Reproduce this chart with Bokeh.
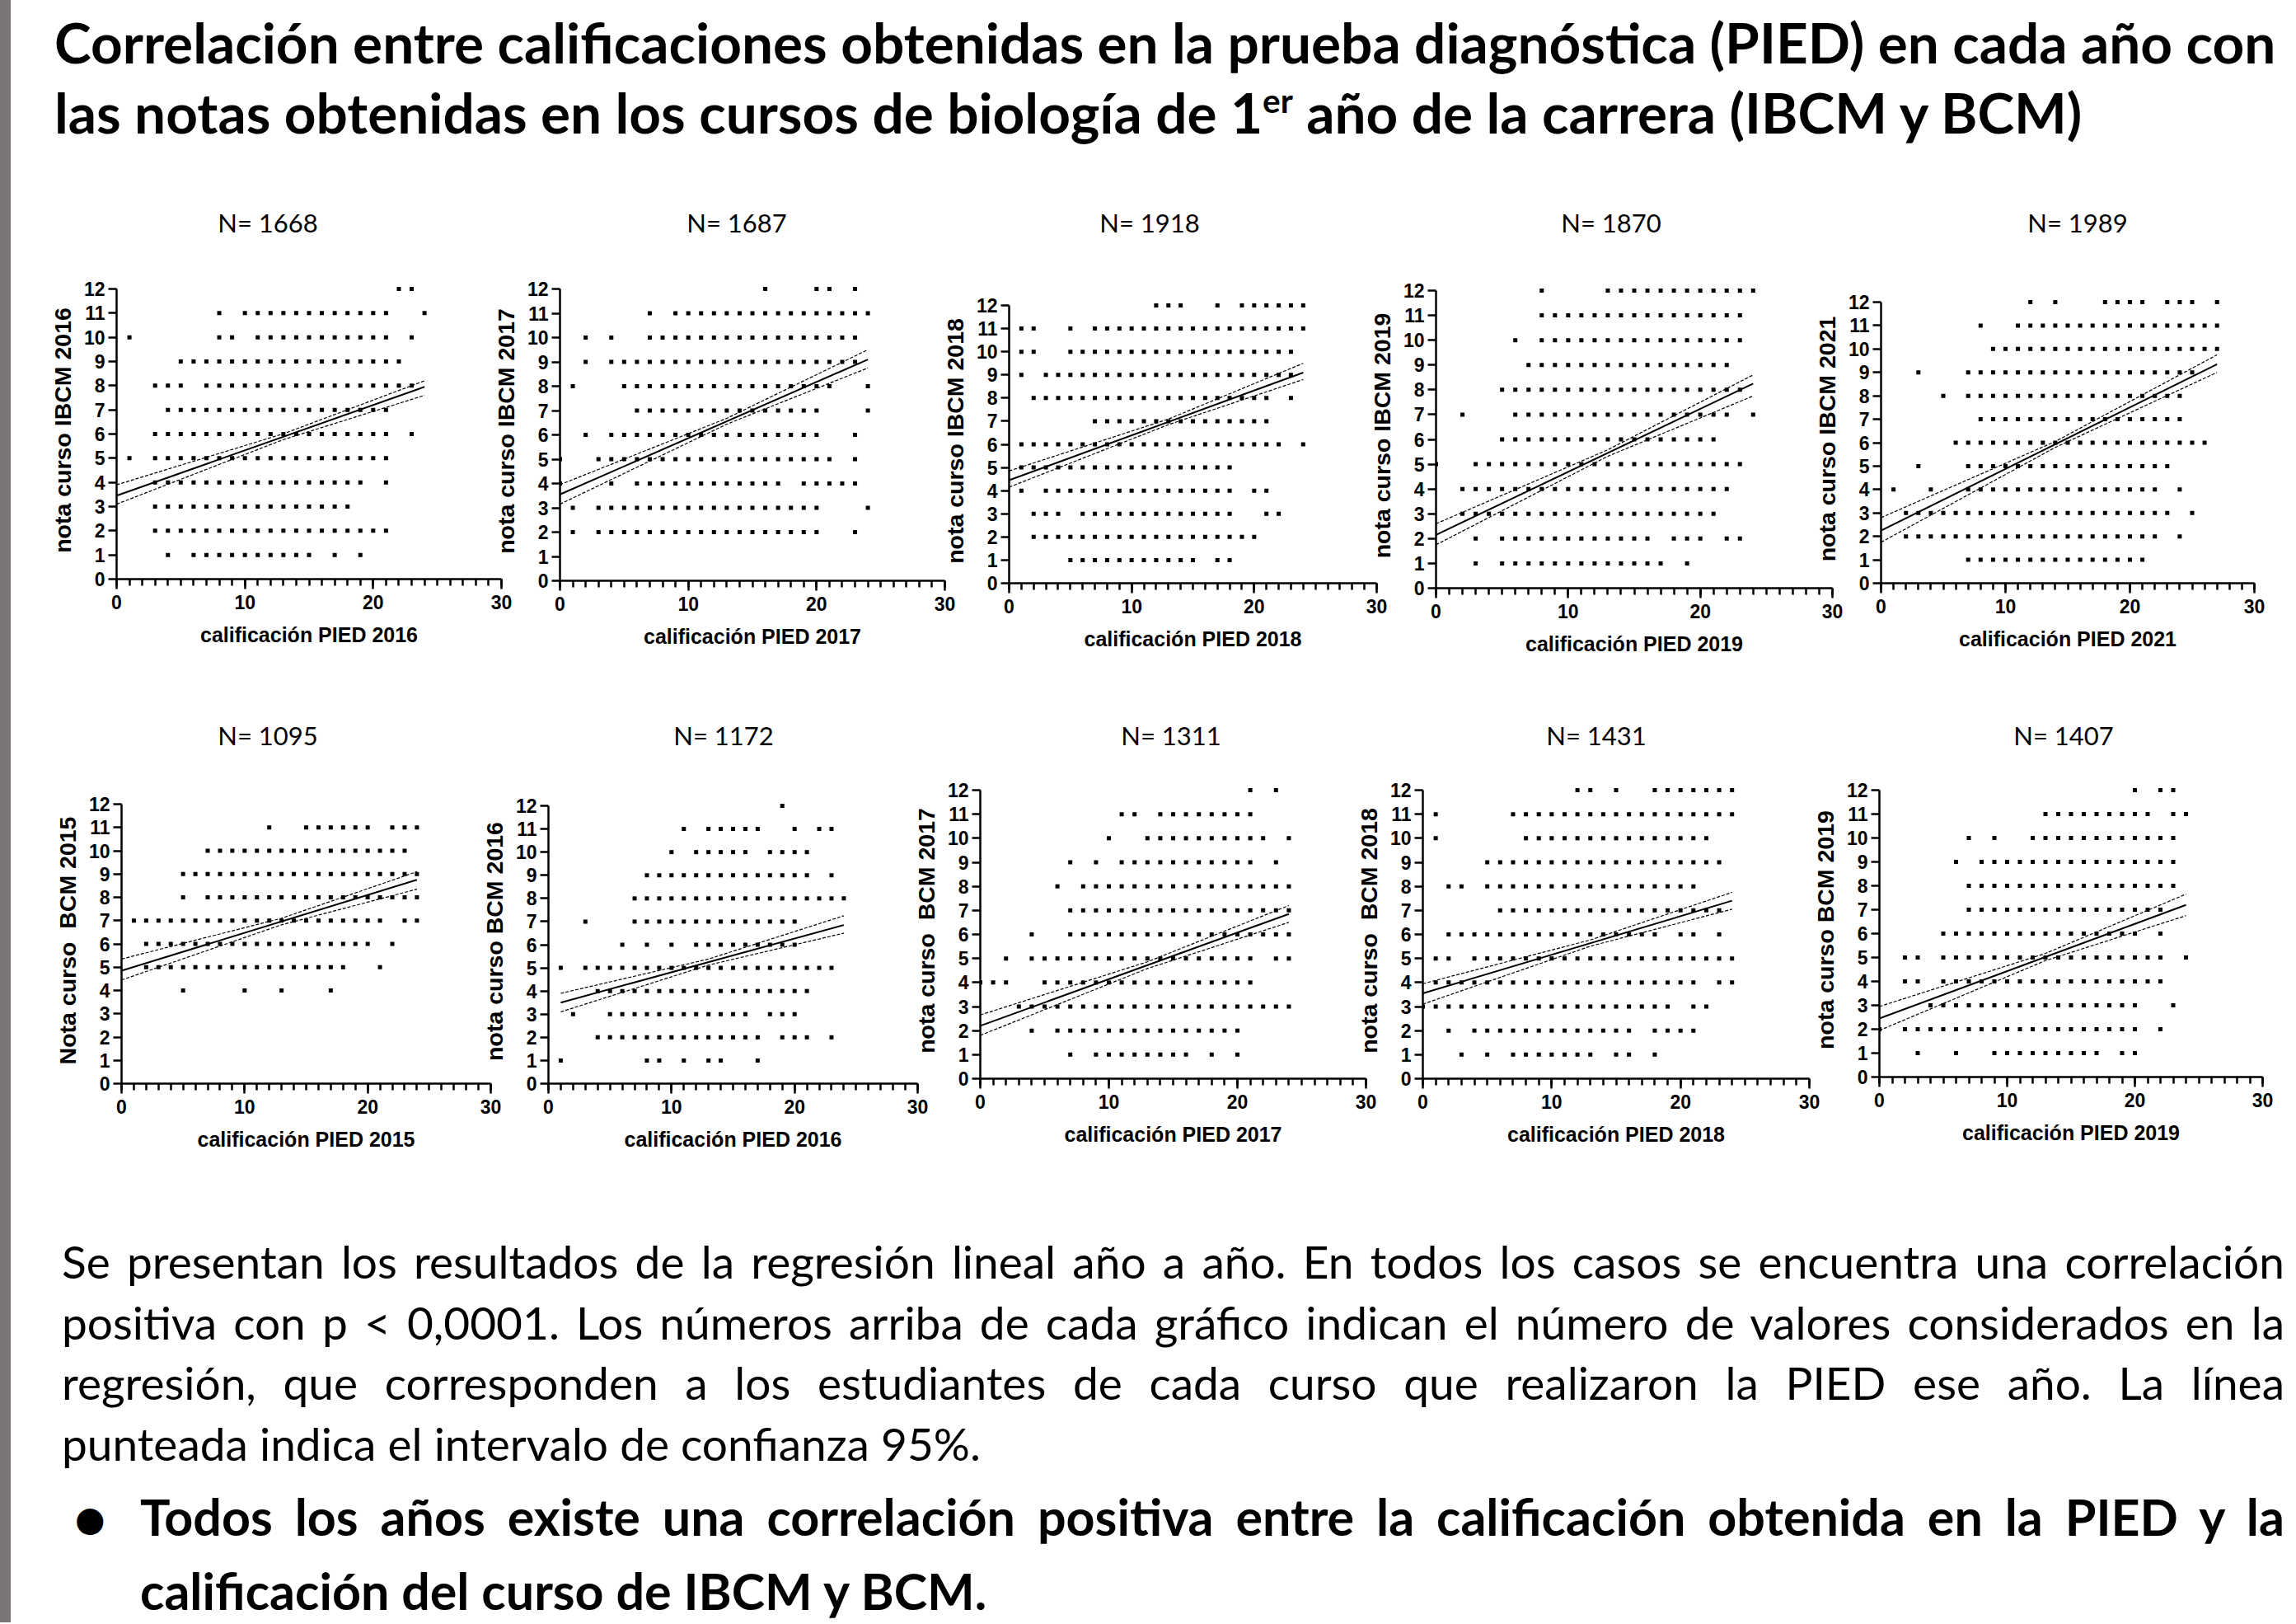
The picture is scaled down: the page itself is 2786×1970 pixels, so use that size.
from bokeh.plotting import figure
from bokeh.models import Range1d, SingleIntervalTicker, Div
from bokeh.layouts import row, column
from bokeh.embed import file_html
from bokeh.resources import INLINE

# ---------------- data ----------------
# Each list gives, for y = 12, 11, ..., 0, the integer x values where a point is drawn
IBCM2016_ROWS = ["22,23", "8,10-21,24", "1,8,9,11-21,23", "5-22", "3-5,7-23", "4-21",
                 "3-21,23", "1,3-21", "3-19,21", "3-18", "3-21", "4,6-15,17,19", ""]
IBCM2017_ROWS = ["16,20,21,23", "7,9-24", "2,4,7-23", "2,4-23", "1,5-21,24", "6-20,24",
                 "2,4-20,23", "0,3-21,23", "0,4,6-17,19-23", "1,3-20,24", "1,3-20,23", "", ""]
IBCM2018_ROWS = ["12-14,17,19-24", "1,2,5,7-24", "1,2,5-23", "1,3-23", "2-21,23", "7-21",
                 "1-22,24", "1-18", "1,3-18,20,21", "2-4,6-18,21,22", "2-20", "5-15,17,18", ""]
IBCM2019_ROWS = ["8,13-24", "8-23", "6,8-23", "7-22", "5-23", "2,6-22,24",
                 "5-21", "0,3-23", "2-22", "2-21", "3,5-16,18-20,22,23", "3,5-17,19", ""]
IBCM2021_ROWS = ["12,14,18-21,23-25,27", "8,11-27", "9-27", "3,7-25", "5,7-24", "8-24",
                 "6-26", "3,7-23", "1,4,7-22,24", "2-23,25", "2-22,24", "7-21", ""]
BCM2015_ROWS = ["", "12,15-20,22-24", "7-23", "5-24", "5,7-24", "1-21,23,24",
                "2-20,22", "2-18,21", "5,10,13,17", "", "", "", ""]
BCM2016_ROWS = ["19", "11,13-17,20,22,23", "10,12-16,18-21", "8-21,23", "7-24", "3,7-20",
                "6,8,10,12-20", "1,3-23", "4-21", "2,5-16,18-20", "4-17,19-21,23",
                "1,8,9,11,13,14,17", ""]
BCM2017_ROWS = ["21,23", "11,12,14-21", "10,13-22,24", "7,9,11-21,23", "6,8-24", "7-24",
                "4,7-24", "2,4-21,23,24", "0-2,5-21", "3-24", "4,6-20", "7,9-16,18,20", ""]
BCM2018_ROWS = ["12,13,15,18-24", "1,7-24", "1,8-22", "5-23", "2,3,5-21", "6-23",
                "2-18,20,21,23", "1,2,4-24", "1-21,23,24", "0-19,21,22", "2,4-16,18-21",
                "3,5,7-13,15,16,18", ""]
BCM2019_ROWS = ["20,22,23", "13-21,23,24", "7,9,12-23", "6,8-23", "7-23", "7-22",
                "5-20,22", "2,3,5-22,24", "2,3,5-22", "4-20,23", "0,2-20,22",
                "3,6,9-17,19,20", ""]

ALL_ROWS = [IBCM2016_ROWS, IBCM2017_ROWS, IBCM2018_ROWS, IBCM2019_ROWS, IBCM2021_ROWS,
            BCM2015_ROWS, BCM2016_ROWS, BCM2017_ROWS, BCM2018_ROWS, BCM2019_ROWS]

N_VALUES = [1668, 1687, 1918, 1870, 1989, 1095, 1172, 1311, 1431, 1407]
X_TITLES = ["calificación PIED 2016", "calificación PIED 2017", "calificación PIED 2018",
            "calificación PIED 2019", "calificación PIED 2021", "calificación PIED 2015",
            "calificación PIED 2016", "calificación PIED 2017", "calificación PIED 2018",
            "calificación PIED 2019"]
Y_TITLES = ["nota curso IBCM 2016", "nota curso IBCM 2017", "nota curso IBCM 2018",
            "nota curso IBCM 2019", "nota curso IBCM 2021", "Nota curso\u00a0 BCM 2015",
            "nota curso BCM 2016", "nota curso\u00a0 BCM 2017", "nota curso\u00a0 BCM 2018",
            "nota curso BCM 2019"]
X_TICK_VALUES = [0, 10, 20, 30]
Y_TICK_MAX = 12

# regression line (start / end) and 95% confidence band (start, middle, end)
FIT_X0 = [0, 0, 0, 0, 0, 0, 1, 0, 0, 0]
FIT_X1 = [24, 24, 24, 24, 27, 24, 24, 24, 24, 24]
FIT_Y0 = [3.45, 3.55, 4.45, 2.15, 2.25, 4.85, 3.5, 2.2, 3.55, 2.45]
FIT_Y1 = [7.95, 9.1, 9.1, 8.25, 9.35, 8.75, 6.85, 6.85, 7.4, 7.2]
CI_XM = [13, 13, 13, 13, 14, 13, 13, 13, 13, 13]
CI_LO0 = [3.1, 3.15, 4.15, 1.75, 1.75, 4.45, 3.1, 1.8, 3.1, 1.95]
CI_HI0 = [3.9, 3.95, 4.85, 2.6, 2.8, 5.35, 3.9, 2.65, 3.95, 2.95]
CI_LOM = [5.77, 6.44, 6.85, 5.32, 5.80, 6.82, 5.12, 4.58, 5.51, 4.87]
CI_HIM = [6.01, 6.68, 7.09, 5.58, 6.05, 7.10, 5.38, 4.86, 5.77, 5.17]
CI_LO1 = [7.6, 8.75, 8.8, 7.75, 9.0, 8.35, 6.5, 6.5, 7.05, 6.75]
CI_HI1 = [8.2, 9.5, 9.5, 8.6, 9.75, 9.1, 7.25, 7.2, 7.75, 7.65]

TITLE_LINE1 = "Correlación entre calificaciones obtenidas en la prueba diagnóstica (PIED) en cada año con"
TITLE_LINE2A = "las notas obtenidas en los cursos de biología de 1"
TITLE_SUP = "er"
TITLE_LINE2B = " año de la carrera (IBCM y BCM)"
PARA_LINES = [
    "Se presentan los resultados de la regresión lineal año a año. En todos los casos se encuentra una correlación",
    "positiva con p &lt; 0,0001. Los números arriba de cada gráfico indican el número de valores considerados en la",
    "regresión, que corresponden a los estudiantes de cada curso que realizaron la PIED ese año. La línea",
    "punteada indica el intervalo de confianza 95%.",
]
BULLET_LINES = [
    "Todos los años existe una correlación positiva entre la calificación obtenida en la PIED y la",
    "calificación del curso de IBCM y BCM.",
]

# ---------------- layout (page pixels; the page has no body margin) ----------------
FRAME_X0 = [141, 679, 1224, 1742, 2282, 147, 665, 1189, 1726, 2280]
FRAME_X30 = [608, 1146, 1670, 2223, 2735, 595, 1113, 1657, 2195, 2745]
FRAME_Y12 = [350, 350, 370, 352, 366, 975, 977, 958, 958, 958]
FRAME_Y0 = [702, 704, 707, 713, 707, 1314, 1314, 1308, 1308, 1306]
N_LABEL_X = [325, 894, 1395, 1955, 2521, 325, 878, 1421, 1937, 2504]
N_LABEL_Y = [270, 270, 270, 270, 270, 892, 892, 892, 892, 892]
MBL, MBR, TB, BB = 110, 30, 100, 100
BAR_W = 13
ORIGIN_X = BAR_W
ROW1_TOP, ROW1_BOTTOM = 241, 813
ROW2_TOP, ROW2_BOTTOM = 813, 1414
PAGE_BOTTOM = 1968
NDIV1_H, NDIV2_H = 70, 120
MAIN_W = 2778 - ORIGIN_X

TICK_FONT = "Liberation Sans"


def parse_rows(rows):
    xs, ys = [], []
    for k, spec in enumerate(rows):
        yv = Y_TICK_MAX - k
        for part in spec.split(","):
            part = part.strip()
            if not part:
                continue
            if "-" in part:
                a, b = part.split("-")
                vals = range(int(a), int(b) + 1)
            else:
                vals = [int(part)]
            for xv in vals:
                xs.append(xv)
                ys.append(yv)
    return xs, ys


def make_plot(i):
    x0p, x30p, y12p, y0p = FRAME_X0[i], FRAME_X30[i], FRAME_Y12[i], FRAME_Y0[i]
    ppu = (y0p - y12p) / Y_TICK_MAX
    ft = int(round(y12p - 0.3 * ppu))
    fh = y0p - ft
    fw = x30p - x0p
    W = MBL + fw + MBR
    H = TB + fh + BB
    ytop = fh / ppu
    p = figure(width=W, height=H, x_range=Range1d(0, 30), y_range=Range1d(0, ytop),
               output_backend="svg", toolbar_location=None,
               min_border_left=MBL, min_border_right=MBR,
               min_border_top=TB, min_border_bottom=BB)
    p.background_fill_alpha = 0
    p.border_fill_alpha = 0
    p.outline_line_color = None
    p.xgrid.visible = False
    p.ygrid.visible = False

    xs, ys = parse_rows(ALL_ROWS[i])
    p.scatter(xs, ys, marker="square", size=5, color="black", line_width=0)

    p.line([FIT_X0[i], FIT_X1[i]], [FIT_Y0[i], FIT_Y1[i]], line_color="black", line_width=2)
    cx = [FIT_X0[i], CI_XM[i], FIT_X1[i]]
    p.line(cx, [CI_LO0[i], CI_LOM[i], CI_LO1[i]], line_color="black", line_width=1.2,
           line_dash="4 2")
    p.line(cx, [CI_HI0[i], CI_HIM[i], CI_HI1[i]], line_color="black", line_width=1.2,
           line_dash="4 2")

    xa = p.xaxis[0]
    xa.ticker = SingleIntervalTicker(interval=10, num_minor_ticks=10)
    xa.bounds = (X_TICK_VALUES[0], X_TICK_VALUES[-1])
    ya = p.yaxis[0]
    ya.ticker = SingleIntervalTicker(interval=1, num_minor_ticks=0)
    ya.bounds = (0, Y_TICK_MAX)
    for ax in (xa, ya):
        ax.axis_line_width = 2.5
        ax.axis_line_color = "black"
        ax.major_tick_line_width = 2.5
        ax.minor_tick_line_width = 2.5
        ax.major_tick_in = 0
        ax.minor_tick_in = 0
        ax.major_label_text_font = TICK_FONT
        ax.major_label_text_font_style = "bold"
        ax.major_label_text_font_size = "23px"
        ax.major_label_text_color = "black"
        ax.axis_label_text_font = TICK_FONT
        ax.axis_label_text_font_style = "bold"
        ax.axis_label_text_color = "black"
    xa.major_tick_out = 12
    xa.minor_tick_out = 8
    xa.major_label_standoff = 7
    xa.axis_label = X_TITLES[i]
    xa.axis_label_text_font_size = "25px"
    xa.axis_label_standoff = 14
    ya.major_tick_out = 10
    ya.minor_tick_out = 0
    ya.major_label_standoff = 4
    ya.axis_label = Y_TITLES[i]
    ya.axis_label_text_font_size = "28.5px"
    ya.axis_label_standoff = 7

    left = x0p - MBL
    top = ft - TB
    return p, left, top, W, H


def build_row(indices, row_top, row_bottom):
    figs = []
    cursor = ORIGIN_X
    for i in indices:
        p, left, top, W, H = make_plot(i)
        p.margin = (top - row_top, 0, row_bottom - (top + H), left - cursor)
        cursor = left + W
        figs.append(p)
    return row(*figs, spacing=0)


def n_label_div(indices, div_top, div_h):
    spans = "".join(
        f'<span style="position:absolute; left:{N_LABEL_X[i] - ORIGIN_X}px; '
        f'top:{N_LABEL_Y[i] - div_top}px; transform:translate(-50%,-50%); '
        f'white-space:nowrap;">N= {N_VALUES[i]}</span>' for i in indices)
    html = (f'<div style="position:relative; width:{MAIN_W}px; height:{div_h}px; '
            f'font-family:Lato; font-size:31px; color:#000;">{spans}</div>')
    return Div(text=html, width=MAIN_W, height=div_h, margin=(0, 0, -div_h, 0))


row1 = build_row([0, 1, 2, 3, 4], ROW1_TOP, ROW1_BOTTOM)
row2 = build_row([5, 6, 7, 8, 9], ROW2_TOP, ROW2_BOTTOM)
ndiv1 = n_label_div([0, 1, 2, 3, 4], ROW1_TOP, NDIV1_H)
ndiv2 = n_label_div([5, 6, 7, 8, 9], ROW2_TOP, NDIV2_H)

title_html = (
    '<div style="font-family:Lato; font-weight:bold; font-size:67.5px; line-height:85px;'
    ' color:#000; padding:8px 0 0 53px; white-space:nowrap;">'
    f'{TITLE_LINE1}<br>{TITLE_LINE2A}<sup style="font-size:60%; line-height:0;'
    f' vertical-align:0.62em;">{TITLE_SUP}</sup>{TITLE_LINE2B}</div>'
)
title_div = Div(text=title_html, width=MAIN_W, height=ROW1_TOP, margin=0,
                styles={"overflow": "hidden"})


def just_lines(lines):
    return "".join(
        f'<div style="text-align:justify; text-align-last:{"justify" if k < len(lines) - 1 else "left"};'
        f' white-space:nowrap;">{t}</div>' for k, t in enumerate(lines))


text_html = (
    '<div style="font-family:Lato; color:#000; width:2759px; padding:80px 0 0 62px;">'
    f'<div style="font-size:55px; line-height:73.5px;">{just_lines(PARA_LINES)}</div>'
    '<div style="position:relative; font-size:61px; font-weight:bold; line-height:90px;'
    ' margin-top:7px; padding-left:95px;">'
    '<span style="position:absolute; left:16px; top:3px; font-family:\'DejaVu Sans\';'
    ' font-weight:normal; font-size:42px;">\u25cf</span>'
    f'{just_lines(BULLET_LINES)}</div></div>'
)
text_div = Div(text=text_html, width=MAIN_W, height=PAGE_BOTTOM - ROW2_BOTTOM, margin=0,
               styles={"overflow": "hidden"})

main = column(title_div, ndiv1, row1, ndiv2, row2, text_div, spacing=0)
bar = Div(text="", width=BAR_W, height=PAGE_BOTTOM, margin=0,
          styles={"background-color": "#7a7676"})
layout = row(bar, main, spacing=0)

open("out.html", "w").write(file_html(layout, INLINE))
